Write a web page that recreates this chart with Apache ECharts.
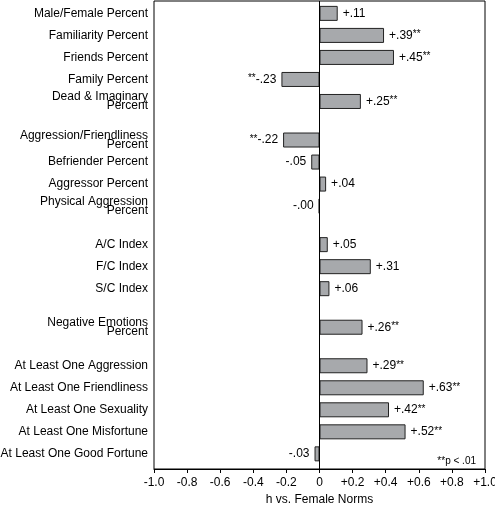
<!DOCTYPE html>
<html><head><meta charset="utf-8">
<script src="https://cdn.jsdelivr.net/npm/echarts@6/dist/echarts.min.js"></script>
<style>html,body{margin:0;padding:0;background:#fff}#c{width:495px;height:505px}</style>
</head><body><div id="c"></div>
<script>
const categories = [
  'Male/Female Percent', 'Familiarity Percent', 'Friends Percent', 'Family Percent', 'Dead & Imaginary\nPercent',
  'Aggression/Friendliness\nPercent', 'Befriender Percent', 'Aggressor Percent', 'Physical Aggression\nPercent',
  'A/C Index', 'F/C Index', 'S/C Index',
  'Negative Emotions\nPercent',
  'At Least One Aggression', 'At Least One Friendliness', 'At Least One Sexuality', 'At Least One Misfortune', 'At Least One Good Fortune'
];
const values = [0.11, 0.39, 0.45, -0.23, 0.25, -0.22, -0.05, 0.04, -0.004, 0.05, 0.31, 0.06, 0.26, 0.29, 0.63, 0.42, 0.52, -0.03];
const significant = [false, true, true, true, true, true, false, false, false, false, false, false, true, true, true, true, true, false];
const groupSizes = [5, 4, 3, 1, 5];
const axisTitle = 'h vs. Female Norms';
const noteText = '**p < .01';

const FONT = 'Liberation Sans, Arial, sans-serif';
// build category slots (sub-bands) with gaps between groups
const rowStep = 8, gapExtra = 6, lead = 4, tail = 6;
const positions = [];
let idx = lead;
groupSizes.forEach((g, gi) => {
  for (let i = 0; i < g; i++) { positions.push(idx); idx += rowStep; }
  idx += gapExtra;
});
const total = positions[positions.length - 1] + tail;
const yCats = new Array(total).fill('');
const barData = new Array(total).fill(null);
positions.forEach((p, i) => {
  yCats[p] = categories[i];
  const v = values[i];
  const num = (v < 0 ? '-' : '+') + Math.abs(v).toFixed(2).replace(/^0/, '');
  const txt = significant[i] ? (v < 0 ? '{s|**}{v|' + num + '}' : '{v|' + num + '}{s|**}') : '{v|' + num + '}';
  barData[p] = {
    value: v,
    label: { show: true, position: v < 0 ? 'left' : 'right', distance: 5, formatter: txt }
  };
});

const chart = echarts.init(document.getElementById('c'));
chart.setOption({
  animation: false,
  backgroundColor: '#fff',
  textStyle: { fontFamily: FONT },
  grid: { left: 154, right: 10, top: 1, bottom: 36, show: true, borderColor: '#000', borderWidth: 1, containLabel: false, outerBoundsMode: 'none' },
  xAxis: {
    type: 'value', min: -1, max: 1, interval: 0.2,
    axisLine: { show: true, lineStyle: { color: '#000', width: 1 } },
    axisTick: { show: true, length: 4, lineStyle: { color: '#000' } },
    splitLine: { show: false },
    axisLabel: {
      color: '#000', fontSize: 12, fontFamily: FONT, margin: 8, hideOverlap: false,
      formatter: v => { const r = Math.round(v * 10) / 10; if (r === 0) return '0'; return (r > 0 ? '+' : '') + r.toFixed(1); }
    },
    name: axisTitle, nameLocation: 'middle', nameGap: 25,
    nameTextStyle: { color: '#000', fontSize: 12, fontFamily: FONT }
  },
  yAxis: {
    type: 'category', inverse: true, data: yCats,
    axisLine: { show: false }, axisTick: { show: false }, splitLine: { show: false },
    axisLabel: { interval: 0, color: '#000', fontSize: 12, fontFamily: FONT, lineHeight: 9, margin: 6 }
  },
  series: [{
    type: 'bar', data: barData, barWidth: 15,
    itemStyle: { color: '#a7a9ac', borderColor: '#222', borderWidth: 1 },
    label: {
      color: '#000', fontFamily: FONT,
      rich: {
        v: { fontSize: 12, color: '#000', fontFamily: FONT, lineHeight: 12 },
        s: { fontSize: 10, color: '#000', fontFamily: FONT, verticalAlign: 'top', lineHeight: 12 }
      }
    },
    markLine: {
      silent: true, symbol: 'none', label: { show: false },
      lineStyle: { color: '#000', width: 1, type: 'solid' },
      data: [{ xAxis: 0 }]
    }
  }],
  graphic: [{
    type: 'text', right: 19, top: 456,
    style: { text: noteText, fontSize: 10, fontFamily: FONT, fill: '#000' }
  }]
});
</script></body></html>
